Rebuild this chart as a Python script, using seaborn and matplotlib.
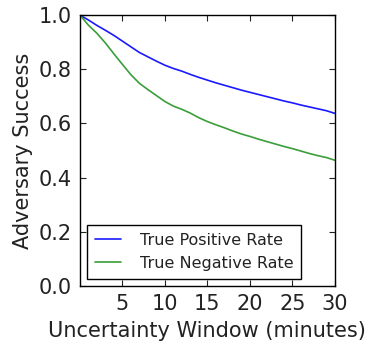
import pandas as pd
import matplotlib
matplotlib.use("Agg")
import matplotlib.pyplot as plt
import seaborn as sns

# 数据
minutes = list(range(0, 31))
tpr = [1.0, 0.982, 0.962, 0.944, 0.925, 0.904, 0.883, 0.862, 0.846, 0.830,
       0.815, 0.803, 0.793, 0.781, 0.770, 0.760, 0.750, 0.741, 0.732, 0.723,
       0.715, 0.707, 0.699, 0.691, 0.683, 0.676, 0.668, 0.661, 0.654, 0.647,
       0.637]
tnr = [1.0, 0.963, 0.933, 0.897, 0.857, 0.818, 0.780, 0.748, 0.725, 0.703,
       0.681, 0.664, 0.652, 0.638, 0.621, 0.607, 0.595, 0.584, 0.572, 0.561,
       0.552, 0.542, 0.533, 0.524, 0.515, 0.507, 0.498, 0.489, 0.481, 0.474,
       0.464]
series_names = ["True Positive Rate", "True Negative Rate"]
x_ticks = [5, 10, 15, 20, 25, 30]
y_ticks = [0.0, 0.2, 0.4, 0.6, 0.8, 1.0]

df = pd.concat([
    pd.DataFrame({"minutes": minutes, "rate": tpr, "series": series_names[0]}),
    pd.DataFrame({"minutes": minutes, "rate": tnr, "series": series_names[1]}),
], ignore_index=True)

sns.set_style("ticks")
plt.rcParams.update({
    "font.family": "DejaVu Sans",
    "text.color": "#222222",
    "axes.labelcolor": "#222222",
    "xtick.color": "#222222",
    "ytick.color": "#222222",
    "xtick.direction": "in",
    "ytick.direction": "in",
    "xtick.top": True,
    "ytick.right": True,
    "xtick.major.size": 4,
    "ytick.major.size": 4,
    "axes.linewidth": 1.0,
    "axes.edgecolor": "black",
})

fig, ax = plt.subplots(figsize=(3.7, 3.44), dpi=100)
sns.lineplot(data=df, x="minutes", y="rate", hue="series",
             palette=["#1a1aff", "#3a9e3a"], hue_order=series_names,
             linewidth=1.2, ax=ax)

ax.set_xlim(0, 30)
ax.set_ylim(0, 1.0)
ax.set_xticks(x_ticks)
ax.set_yticks(y_ticks)
ax.tick_params(labelsize=15, pad=6)
ax.set_xlabel("Uncertainty Window (minutes)", fontsize=15, labelpad=5)
ax.set_ylabel("Adversary Success", fontsize=15, labelpad=4)

leg = ax.legend(loc="lower left", fontsize=11.5, fancybox=False,
                framealpha=1, borderaxespad=0.45, handlelength=1.6,
                handletextpad=1.2, borderpad=0.5)
leg.get_frame().set_edgecolor("black")
leg.get_frame().set_linewidth(1.0)

fig.subplots_adjust(left=0.216, right=0.905, top=0.956, bottom=0.169)
plt.savefig("out.png", dpi=100)
